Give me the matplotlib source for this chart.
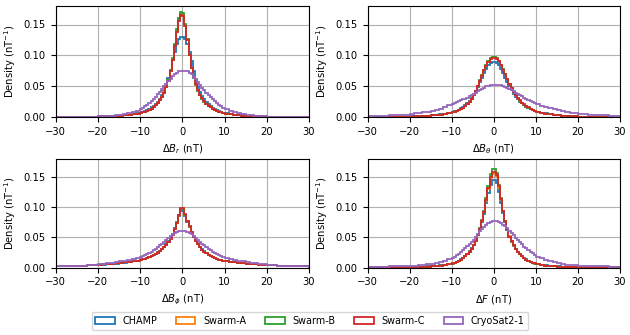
import numpy as np
import matplotlib
matplotlib.use("Agg")
import matplotlib.pyplot as plt
from matplotlib.ticker import FormatStrFormatter

# ---------------- data (density values x 1e-3, per bin, left -> right) ----------------
series_names = ["CHAMP", "Swarm-A", "Swarm-B", "Swarm-C", "CryoSat2-1"]
xlabels = [r"$\Delta B_r$ (nT)", r"$\Delta B_\theta$ (nT)",
           r"$\Delta B_\phi$ (nT)", r"$\Delta F$ (nT)"]

# ΔB_r
br_champ = [0.2, 0.3, 0.45, 0.65,
            0.9, 1.1, 1.4, 1.7, 2.1, 2.6, 3.2, 4.0, 5.0, 6.0,
            7, 8, 9.5, 11, 13, 15.5, 18, 21, 25, 29, 35, 42, 51, 63, 77, 92, 106, 118, 127, 130,
            130, 126, 118, 106, 90, 74, 60, 49, 41, 34, 28.5, 24, 20.5, 17.5, 15, 13, 11, 9.5, 8, 7,
            6.0, 5.0, 4.0, 3.2, 2.6, 2.1, 1.7, 1.4, 1.1, 0.9,
            0.65, 0.45, 0.3, 0.2]
br_swa = [0.25, 0.35, 0.5, 0.7,
          0.9, 1.1, 1.3, 1.6, 2.0, 2.4, 2.9, 3.6, 4.5, 5.5,
          6.5, 7.5, 8.6, 10, 11.5, 13.4, 16, 19, 22.5, 27.5, 33, 40, 49, 60, 75, 93, 116, 140, 157, 167,
          166, 150, 126, 101, 80, 65, 53, 43, 36, 30, 25.5, 21.5, 18.5, 15.8, 13.5, 11.5, 10, 8.6, 7.5, 6.5,
          5.5, 4.5, 3.6, 2.9, 2.4, 2.0, 1.6, 1.3, 1.1, 0.9,
          0.7, 0.5, 0.35, 0.25]
br_swb = [0.25, 0.35, 0.5, 0.7,
          0.9, 1.1, 1.3, 1.6, 2.0, 2.4, 2.9, 3.6, 4.5, 5.4,
          6.4, 7.4, 8.4, 9.8, 11.3, 13.2, 15.8, 18.8, 22, 27, 32.5, 39.5, 49, 60, 76, 95, 118, 142, 160, 170,
          168, 151, 127, 101, 80, 64, 52, 42.5, 35.5, 29.5, 25, 21, 18, 15.5, 13.2, 11.3, 9.8, 8.4, 7.4, 6.4,
          5.4, 4.5, 3.6, 2.9, 2.4, 2.0, 1.6, 1.3, 1.1, 0.9,
          0.7, 0.5, 0.35, 0.25]
br_swc = [0.25, 0.35, 0.5, 0.7,
          0.9, 1.1, 1.3, 1.6, 2.0, 2.4, 2.9, 3.6, 4.5, 5.5,
          6.5, 7.5, 8.5, 10, 11.5, 13.5, 16, 19, 22, 27, 32, 39, 48, 59, 74, 92, 115, 138, 155, 165,
          163, 148, 125, 100, 80, 65, 53, 43, 36, 30, 25.5, 21.5, 18.5, 15.5, 13.5, 11.5, 10, 8.5, 7.5, 6.5,
          5.5, 4.5, 3.6, 2.9, 2.4, 2.0, 1.6, 1.3, 1.1, 0.9,
          0.7, 0.5, 0.35, 0.25]
br_cs = [0.1, 0.2, 0.35, 0.6,
         1.0, 1.3, 1.6, 2.0, 2.6, 3.4, 4.5, 6.0, 8.0, 10.5,
         13, 15, 17.5, 20, 23, 26, 29.5, 33, 37, 41, 45.5, 50, 54, 58, 62, 66, 69.5, 72, 74, 75,
         75, 75, 74, 72, 69, 65, 61, 56.5, 52, 47.5, 43, 39, 35.5, 32, 28.5, 25.5, 22.5, 20, 17.5, 15,
         13, 10.5, 8.3, 6.5, 5.0, 3.8, 2.9, 2.2, 1.7, 1.3,
         0.8, 0.45, 0.25, 0.15]

# ΔB_theta
bt_champ = [0.15, 0.25, 0.4, 0.65,
            0.9, 1.1, 1.4, 1.7, 2.1, 2.6, 3.3, 4.1, 5.2, 6.5,
            8, 9.2, 10.5, 12, 13.8, 16, 18.8, 22, 25.5, 30, 35.5, 42, 49, 56.5, 64, 71.5, 78.5, 84, 88, 90,
            90, 88, 84, 78.5, 71.5, 64, 56.5, 49.5, 43, 37.5, 32.5, 28.5, 25, 22, 19.5, 17, 15, 13, 11.5, 10.2,
            8.8, 7.2, 5.8, 4.6, 3.7, 3.0, 2.4, 1.9, 1.5, 1.2,
            0.8, 0.5, 0.3, 0.2]
bt_swa = [0.15, 0.25, 0.4, 0.6,
          0.8, 1.0, 1.3, 1.6, 2.0, 2.5, 3.1, 3.9, 4.9, 6.2,
          7.6, 8.7, 9.9, 11.3, 13.1, 15.3, 18.1, 21.2, 24.8, 29.3, 35.3, 42.3, 50.5, 59, 67.5, 76, 83.5, 90, 95, 97,
          97, 95, 91, 84.5, 77, 69, 61, 53.5, 46.5, 40.5, 35, 30.5, 26.5, 23, 20, 17.5, 15.2, 13, 11.3, 9.8,
          8.2, 6.6, 5.2, 4.1, 3.2, 2.5, 2.0, 1.6, 1.3, 1.0,
          0.7, 0.45, 0.3, 0.2]
bt_swb = [0.15, 0.25, 0.4, 0.6,
          0.8, 1.0, 1.3, 1.6, 2.0, 2.5, 3.1, 3.9, 4.9, 6.1,
          7.4, 8.5, 9.7, 11.1, 12.9, 15.1, 17.9, 21, 24.6, 29.2, 35.2, 42.5, 51, 59.5, 68, 76.5, 84, 90.5, 95.5, 98,
          98, 96, 91.5, 85, 77.5, 69.5, 61.5, 54, 47, 40.8, 35.2, 30.6, 26.6, 23.2, 20.2, 17.7, 15.3, 13.1, 11.4, 9.9,
          8.2, 6.6, 5.2, 4.1, 3.2, 2.5, 2.0, 1.6, 1.3, 1.0,
          0.7, 0.45, 0.3, 0.2]
bt_swc = [0.15, 0.25, 0.4, 0.6,
          0.8, 1.0, 1.3, 1.6, 2.0, 2.5, 3.1, 3.9, 4.9, 6.2,
          7.5, 8.6, 9.8, 11.2, 13, 15.2, 18, 21, 24.5, 29, 35, 42, 50, 58.5, 67, 75.5, 83, 89.5, 94, 96,
          96, 94, 90, 84, 77, 69, 61, 54, 47, 41, 35.5, 31, 27, 23.5, 20.5, 18, 15.5, 13.3, 11.5, 10,
          8.2, 6.6, 5.2, 4.1, 3.2, 2.5, 2.0, 1.6, 1.3, 1.0,
          0.7, 0.45, 0.3, 0.2]
bt_cs = [1.6, 2.4, 3.0, 4.0,
         5.0, 5.8, 6.7, 7.7, 8.8, 10, 11.5, 13.5, 16, 19,
         21, 22.5, 24, 25.5, 27, 28.5, 30, 31.5, 33.5, 35.5, 37.5, 39.5, 41.5, 43.5, 45.5, 47.5, 49.5, 51, 52, 52.5,
         52.5, 52.5, 52, 51.5, 50.5, 49, 47.5, 45.5, 43.5, 41.5, 39.5, 37.5, 35.5, 33.5, 31.5, 29.5, 27.5, 25.5, 24, 22.5,
         20.5, 18.5, 16.5, 14.5, 12.5, 10.8, 9.3, 8.0, 6.9, 6.0,
         4.5, 3.4, 2.6, 1.8]

# ΔB_phi
bp_champ = [1.8, 2.3, 2.9, 3.6,
            4.3, 4.8, 5.3, 5.9, 6.6, 7.3, 8.1, 9.1, 10.2, 11.3,
            12.5, 13.5, 14.6, 15.9, 17.3, 18.9, 20.7, 22.7, 25, 27.7, 30.8, 34.5, 38.7, 43.5, 49.3, 56, 64.5, 74, 85, 93,
            93, 85, 75.5, 67, 58.5, 51, 44.5, 39, 34, 30, 26.5, 23.8, 21.3, 19.2, 17.4, 15.8, 14.4, 13.2, 12.1, 11.2,
            10.2, 9.2, 8.3, 7.5, 6.8, 6.1, 5.5, 5.0, 4.5, 4.1,
            3.4, 2.7, 2.1, 1.7]
bp_swa = [2.1, 2.6, 3.2, 3.9,
          4.6, 5.1, 5.6, 6.2, 6.9, 7.6, 8.4, 9.4, 10.4, 11.4,
          12.4, 13.4, 14.4, 15.7, 17.1, 18.7, 20.4, 22.4, 24.5, 27, 30, 33.6, 37.7, 42.3, 48, 54.5, 63.5, 74, 86, 96,
          96, 86, 76, 67.5, 58.8, 51, 44, 38.5, 33.5, 29.5, 26, 23.5, 21, 19, 17.2, 15.6, 14.3, 13.1, 12, 11.2,
          10.3, 9.4, 8.6, 7.8, 7.1, 6.5, 5.9, 5.4, 4.9, 4.5,
          3.8, 3.1, 2.5, 2.0]
bp_swb = [2.1, 2.6, 3.2, 3.9,
          4.6, 5.1, 5.6, 6.2, 6.9, 7.6, 8.4, 9.4, 10.4, 11.4,
          12.4, 13.4, 14.4, 15.7, 17.1, 18.7, 20.4, 22.4, 24.5, 27, 30, 33.6, 37.7, 42.3, 48, 54.5, 63.5, 74.5, 87, 97,
          97, 87, 76.5, 67.5, 58.8, 51, 44, 38.5, 33.5, 29.5, 26, 23.5, 21, 19, 17.2, 15.6, 14.3, 13.1, 12, 11.2,
          10.3, 9.4, 8.6, 7.8, 7.1, 6.5, 5.9, 5.4, 4.9, 4.5,
          3.8, 3.1, 2.5, 2.0]
bp_swc = [2.2, 2.7, 3.3, 4.0,
          4.7, 5.2, 5.7, 6.3, 7.0, 7.7, 8.5, 9.5, 10.5, 11.5,
          12.5, 13.5, 14.5, 15.8, 17.2, 18.8, 20.5, 22.5, 24.5, 27, 30, 33.5, 37.5, 42, 47.5, 54, 63, 74, 87, 99,
          99, 88, 77, 68, 59, 51, 44, 38.5, 33.5, 29.5, 26, 23.5, 21, 19, 17.2, 15.6, 14.3, 13.1, 12, 11.2,
          10.3, 9.4, 8.6, 7.8, 7.1, 6.5, 5.9, 5.4, 4.9, 4.5,
          3.8, 3.1, 2.5, 2.0]
bp_cs = [1.9, 2.5, 3.3, 4.4,
         5.5, 6.2, 7.0, 7.9, 8.9, 10, 11.2, 12.5, 14, 15.5,
         17.5, 19, 20.5, 22, 24, 26, 28.5, 31, 33.5, 36.5, 39.5, 42.5, 46, 49, 52, 55, 57, 58.5, 59.5, 60,
         60, 59.5, 58.5, 57, 55, 52, 49, 46, 42.5, 39.5, 36.5, 33.5, 31, 28.5, 26, 24, 22, 20.5, 19, 17.5,
         15.5, 14, 12.5, 11.2, 10, 8.9, 7.9, 7.0, 6.2, 5.5,
         4.4, 3.3, 2.5, 1.9]

# ΔF
f_champ = [0.12, 0.2, 0.3, 0.45,
           0.65, 0.8, 1.05, 1.35, 1.7, 2.1, 2.7, 3.4, 4.4, 5.7,
           7, 8.2, 9.6, 11.3, 13.3, 15.8, 18.8, 22.3, 26.5, 31.5, 37.5, 44.5, 53, 63, 75, 89, 106, 123, 137, 144,
           144, 139, 125, 107, 90, 75, 62, 51, 43, 36.5, 31, 26.3, 22.3, 19, 16, 13.5, 11.4, 9.6, 8.2, 7,
           5.7, 4.4, 3.4, 2.7, 2.1, 1.7, 1.35, 1.05, 0.8, 0.65,
           0.45, 0.3, 0.2, 0.12]
f_swa = [0.1, 0.15, 0.25, 0.4,
         0.55, 0.7, 0.9, 1.2, 1.5, 1.9, 2.5, 3.2, 4.1, 5.4,
         6.8, 8, 9.4, 11.1, 13.1, 15.6, 18.6, 22.1, 26.2, 31.2, 37.2, 44.3, 53.3, 64, 76.5, 91, 110, 129, 147, 155,
         155, 149, 132, 112, 92.5, 76.5, 63, 51.5, 43.3, 36.8, 31.2, 26.2, 22.2, 18.7, 15.7, 13.2, 11.1, 9.4, 8, 6.8,
         5.4, 4.1, 3.2, 2.5, 1.9, 1.5, 1.2, 0.9, 0.7, 0.55,
         0.4, 0.25, 0.15, 0.1]
f_swb = [0.1, 0.15, 0.25, 0.4,
         0.55, 0.7, 0.9, 1.2, 1.5, 1.9, 2.5, 3.2, 4.1, 5.3,
         6.6, 7.8, 9.2, 10.9, 12.9, 15.4, 18.4, 21.9, 25.8, 30.8, 36.8, 44, 53.5, 65, 78.5, 94, 114, 135, 154, 162,
         162, 156, 137, 115, 94, 77.5, 63, 51, 42.8, 36.3, 30.8, 25.8, 21.8, 18.3, 15.3, 12.8, 10.9, 9.2, 7.8, 6.6,
         5.3, 4.1, 3.2, 2.5, 1.9, 1.5, 1.2, 0.9, 0.7, 0.55,
         0.4, 0.25, 0.15, 0.1]
f_swc = [0.1, 0.15, 0.25, 0.4,
         0.55, 0.7, 0.9, 1.2, 1.5, 1.9, 2.5, 3.2, 4.1, 5.4,
         6.7, 7.9, 9.3, 11, 13, 15.5, 18.5, 22, 26, 31, 37, 44, 53, 64, 77, 92, 112, 132, 150, 158,
         158, 152, 134, 113, 93, 77, 63, 51, 43, 36.5, 31, 26, 22, 18.5, 15.5, 13, 11, 9.3, 7.9, 6.7,
         5.4, 4.1, 3.2, 2.5, 1.9, 1.5, 1.2, 0.9, 0.7, 0.55,
         0.4, 0.25, 0.15, 0.1]
f_cs = [1.0, 1.4, 1.8, 2.3,
        2.8, 3.2, 3.7, 4.3, 5.1, 6.1, 7.4, 9, 11, 13.5,
        16, 18, 20.5, 23, 25.5, 28.5, 31.5, 35, 38.5, 42, 46, 50, 56, 60, 63.5, 67.5, 71, 73.5, 75.5, 76,
        76, 76, 75, 73.5, 71, 68, 64.5, 61, 57, 53, 49, 45, 41.5, 38, 34.5, 31.5, 28.5, 26, 23.5, 21,
        18, 15, 12.5, 10.3, 8.5, 7, 5.8, 4.9, 4.2, 3.6,
        3.0, 2.3, 1.7, 1.3]

panels = [
    [br_champ, br_swa, br_swb, br_swc, br_cs],
    [bt_champ, bt_swa, bt_swb, bt_swc, bt_cs],
    [bp_champ, bp_swa, bp_swb, bp_swc, bp_cs],
    [f_champ, f_swa, f_swb, f_swc, f_cs],
]

# ---------------- bins ----------------
edges = np.concatenate([np.arange(-30, -20, 2.5), np.arange(-20, -10, 1.0),
                        np.arange(-10, 10, 0.5), np.arange(10, 20, 1.0),
                        np.arange(20, 30.001, 2.5)])
centers = 0.5 * (edges[:-1] + edges[1:])

colors = ["#1f77b4", "#ff7f0e", "#2ca02c", "#d62728", "#9467bd"]

W, H = 630, 335
fig = plt.figure(figsize=(W / 100, H / 100), dpi=100)

def rect(x0, x1, ytop, ybot):
    return [x0 / W, 1 - ybot / H, (x1 - x0) / W, (ybot - ytop) / H]

positions = [rect(55.5, 309, 6, 117), rect(367.5, 620, 6, 117),
             rect(55.5, 309, 158.5, 267.5), rect(367.5, 620, 158.5, 267.5)]

fs = 7.2
axes = []
for i, (pos, series) in enumerate(zip(positions, panels)):
    ax = fig.add_axes(pos)
    for name, col, vals in zip(series_names, colors, series):
        ax.hist(centers, bins=edges, weights=np.asarray(vals) * 1e-3,
                histtype="step", color=col, lw=1.3, label=name)
    ax.set_xlim(-30, 30)
    ax.set_ylim(0, 0.18)
    ax.set_xticks(np.arange(-30, 31, 10))
    ax.set_yticks([0, 0.05, 0.10, 0.15])
    ax.yaxis.set_major_formatter(FormatStrFormatter("%.2f"))
    ax.grid(True, color="#b0b0b0", lw=0.8)
    ax.set_axisbelow(True)
    ax.tick_params(labelsize=fs)
    ax.set_xlabel(xlabels[i], fontsize=fs)
    ax.set_ylabel(r"Density (nT$^{-1}$)", fontsize=fs)
    axes.append(ax)

handles, labels = axes[0].get_legend_handles_labels()
fig.legend(handles, labels, loc="center", bbox_to_anchor=(310 / W, 1 - 321 / H),
           ncol=5, fontsize=6.9, frameon=True, columnspacing=2.0)

fig.savefig("out.png", dpi=100)
